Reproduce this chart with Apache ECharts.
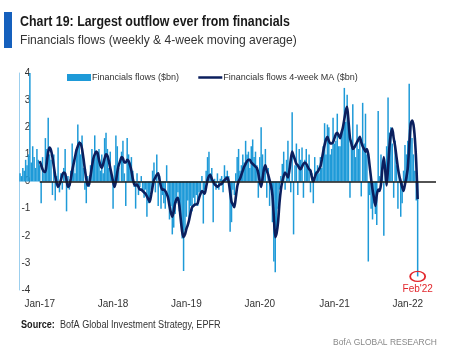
<!DOCTYPE html>
<html>
<head>
<meta charset="utf-8">
<script src="https://cdn.jsdelivr.net/npm/echarts@6/dist/echarts.min.js"></script>
<style>
  html, body { margin: 0; padding: 0; background: #fff; }
  #main { width: 474px; height: 353px; }
</style>
</head>
<body>
<div id="main"></div>
<script>
// weekly observations start here, one per week
const firstWeek = '2016-09-28';
// empty weeks after the last bar, so the zero line runs on a bit
const padWeeks = 13;

// weekly financials flows ($bn)
const flows = [
  0.3, 0.2, 0.5, 0.4, 0.8, 0.6, 1.0, 4.0, 0.7, 1.3, 0.9, 0.5, 1.2, 0.8,
  0.6, -0.8, 0.9, 0.3, 1.6, 1.2, 2.35, 1.0, 0.8, -0.5, 1.0, -0.7, 0.2, 1.25,
  -0.4, 0.3, -0.3, 0.5, 1.2, -1.1, 0.2, -0.3, 0.4, 1.4, 0.8, 0.3, 1.2, 2.1,
  1.5, 1.0, 1.7, 0.5, -0.3, -0.8, 0.2, -0.2, 0.6, 1.2, 0.8, 1.7, 1.1, 0.9,
  1.2, 0.4, 1.0, 0.3, 1.6, 1.8, 1.2, 0.5, 1.1, 0.2, -1.0, 0.6, 1.7, 1.3,
  0.5, 0.0, 1.1, 1.5, 0.3, -0.9, 1.6, 1.0, 0.7, 0.9, 0.4, -0.2, -1.0, 0.3,
  -0.5, -0.2, 0.2, -0.4, -0.6, -0.3, -1.3, -0.8, -0.7, -0.3, 0.4, 0.7, -0.4, 1.0,
  -0.9, 0.2, -1.0, -0.5, -0.8, -1.0, 0.6, -0.6, -1.4, -0.9, -1.95, -1.7, -1.2, -0.8,
  -0.4, -1.1, -1.5, -2.1, -3.3, -1.8, -1.3, -0.7, -1.45, -0.9, -1.1, -0.6, -0.9, -0.5,
  -0.9, -0.4, -0.5, 0.2, -1.55, -0.3, 0.4, 0.9, 1.1, 0.3, 0.5, -1.5, 0.1, -0.3,
  0.3, -0.3, 0.1, 0.2, -0.4, 0.6, 0.2, 0.4, 0.2, -1.85, -1.5, -0.3, -0.5, 0.3,
  0.9, 1.2, 0.4, 0.6, 1.0, 0.7, 1.5, 1.0, 1.1, 0.5, 1.3, 1.55, 0.9, 1.1,
  0.6, -0.6, 0.9, 2.0, 1.0, 0.3, 1.2, -0.6, 0.5, -0.9, -0.3, -1.5, -2.95, -3.35,
  -1.8, -1.0, -0.3, 0.2, 0.65, 1.1, -0.3, 0.8, 1.5, 0.5, -0.4, 2.55, -1.95, 0.6,
  1.4, -0.5, 1.2, 0.8, 1.25, -0.6, 0.8, 1.2, 0.5, 1.0, -0.4, 0.3, -0.8, 0.9,
  0.4, 0.6, 0.3, 0.9, 0.5, 1.3, 2.15, 1.0, 2.1, 2.0, 1.0, 1.2, 2.35, 1.4,
  1.5, 2.5, 1.3, 1.3, 1.8, 2.05, 3.45, 2.2, 3.2, 2.0, -0.6, 1.5, 2.85, 1.3,
  0.9, 2.1, 1.2, 1.5, -0.55, 2.9, 1.4, 2.5, 1.0, -2.95, -0.5, -1.0, -1.4, -0.8,
  -1.2, -1.6, 2.6, 0.2, 1.0, 0.4, -2.0, 0.6, 1.3, 3.1, 1.8, 2.0, 1.4, -0.6,
  1.5, 0.6, -1.0, 0.3, -1.3, -0.8, 0.4, 1.35, 1.0, 1.5, 3.6, 2.2, 1.6, 1.0, 0.4, -0.7, -3.5
];

// 4-week moving average ($bn), begins at week maStart (first week of Jan-17)
const maStart = 14;
const flowsMA = [
  0.75, 0.6, 0.45, 0.35, 0.35, 0.7, 1.1, 1.25, 1.15, 0.9, 0.55, 0.2, -0.05, -0.2,
  -0.1, 0.05, 0.25, 0.33, 0.3, 0.05, -0.2, -0.15, 0.1, 0.4, 0.65, 0.9, 1.15, 1.3,
  1.43, 1.4, 1.2, 0.85, 0.45, 0.1, -0.15, -0.1, 0.2, 0.55, 0.85, 1.0, 1.1, 1.05,
  0.8, 0.6, 0.5, 0.65, 0.85, 1.0, 0.95, 0.75, 0.5, 0.25, 0.0, -0.2, 0.0, 0.35,
  0.6, 0.75, 0.9, 0.85, 0.7, 0.7, 0.8, 0.75, 0.6, 0.4, 0.1, -0.1, -0.15, -0.1,
  -0.2, -0.3, -0.3, -0.35, -0.4, -0.45, -0.55, -0.65, -0.75, -0.5, -0.2, 0.05, 0.15, 0.25,
  0.3, 0.05, -0.2, -0.3, -0.3, -0.35, -0.45, -0.6, -0.9, -1.15, -1.3, -1.1, -0.8, -0.65,
  -0.6, -0.9, -1.4, -1.85, -2.05, -1.95, -1.75, -1.6, -1.4, -1.15, -0.95, -0.9, -0.85, -0.85,
  -0.8, -0.6, -0.45, -0.35, -0.4, -0.45, -0.2, 0.05, 0.2, 0.25, 0.1, 0.0, -0.1, -0.15,
  -0.2, -0.15, -0.1, -0.1, 0.0, 0.05, 0.1, 0.15, 0.0, -0.4, -0.75, -0.85, -0.95, -0.6,
  -0.2, 0.0, 0.1, 0.25, 0.4, 0.55, 0.65, 0.75, 0.8, 0.8, 0.7, 0.65, 0.6, 0.55,
  0.5, 0.3, 0.0, -0.2, 0.1, 0.45, 0.6, 0.4, 0.25, 0.05, -0.15, -0.5, -1.3, -2.05,
  -1.9, -1.5, -0.8, -0.3, 0.0, 0.2, 0.33, 0.25, 0.15, 0.4, 0.8, 1.1, 0.95, 0.8,
  0.65, 0.6, 0.5, 0.45, 0.55, 0.65, 0.7, 0.65, 0.55, 0.45, 0.4, 0.15, 0.0, 0.15,
  0.3, 0.35, 0.45, 0.55, 0.8, 1.1, 1.35, 1.55, 1.65, 1.5, 1.4, 1.4, 1.45, 1.6,
  1.75, 1.8, 1.7, 1.6, 1.8, 2.0, 2.3, 2.6, 2.75, 2.2, 1.6, 1.4, 1.2, 1.25,
  1.35, 1.45, 1.55, 1.65, 1.45, 1.3, 1.2, 1.1, 1.2, 1.0, 0.55, 0.1, -0.3, -0.6,
  -0.9, -0.5, -0.3, -0.35, -0.1, 0.5, 0.9, 0.4, -0.15, 0.5, 1.3, 1.75, 1.95, 1.6,
  1.3, 0.9, 0.5, 0.2, 0.0, -0.2, -0.35, -0.1, 0.15, 0.5, 1.3, 2.1, 2.25, 2.1, 1.6, 0.7, -0.65
];

const yMin = -4;
const yMax = 4;
const lastLabel = "Feb'22";

// texts
const titleText = 'Chart 19: Largest outflow ever from financials';
const subText = 'Financials flows (weekly & 4-week moving average)';
const flowsName = 'Financials flows ($bn)';
const maName = 'Financials flows 4-week MA ($bn)';
const sourceText = 'BofA Global Investment Strategy, EPFR';
const brandText = 'BofA GLOBAL RESEARCH';

const barBlue = '#1e9ad8';
const navy = '#0b1f5e';
const red = '#e2262c';
const font = '"Liberation Sans", Arial, sans-serif';
const monthNames = ['Jan', 'Feb', 'Mar', 'Apr', 'May', 'Jun', 'Jul', 'Aug', 'Sep', 'Oct', 'Nov', 'Dec'];

// week categories
let weeks = [];
let t0 = Date.parse(firstWeek + 'T00:00:00Z');
for (let i = 0; i < flows.length + padWeeks; i++) {
  weeks.push(new Date(t0 + i * 7 * 86400000).toISOString().slice(0, 10));
}

// moving average only from Jan-17 onwards
let maData = weeks.slice(0, flows.length).map((w, i) => i < maStart ? null : flowsMA[i - maStart]);

function isFirstJanWeek(w) {
  return w.slice(5, 7) === '01' && Number(w.slice(8, 10)) <= 7;
}

let chart = echarts.init(document.getElementById('main'), null, { renderer: 'canvas' });
let lastIdx = flows.length - 1;

chart.setOption({
  animation: false,
  textStyle: { fontFamily: font },
  grid: {
    left: 19.3,
    right: 37.3,
    top: 73,
    bottom: 63
  },
  legend: {
    left: 62,
    top: 68,
    itemWidth: 24,
    itemHeight: 7,
    itemGap: 18,
    textStyle: { fontSize: 9, color: '#333', fontFamily: font, padding: [0, 0, 0, -4] },
    data: [
      { name: flowsName, icon: 'rect' },
      {
        name: maName,
        itemStyle: { color: 'rgba(0,0,0,0)', borderColor: 'rgba(0,0,0,0)', borderWidth: 0 },
        lineStyle: { color: navy, width: 2.5 }
      }
    ]
  },
  xAxis: {
    type: 'category',
    data: weeks,
    boundaryGap: true,
    axisLine: { show: false, onZero: false },
    axisTick: { show: false },
    splitLine: { show: false },
    axisLabel: {
      interval: (idx, val) => isFirstJanWeek(val),
      formatter: (val) => monthNames[Number(val.slice(5, 7)) - 1] + '-' + val.slice(2, 4),
      color: '#333',
      fontSize: 10,
      margin: 9
    }
  },
  yAxis: {
    type: 'value',
    min: yMin,
    max: yMax,
    interval: 1,
    splitLine: { show: false },
    axisTick: { show: false },
    axisLine: { show: true, lineStyle: { color: '#9ccfee', width: 1 } },
    axisLabel: {
      inside: true,
      align: 'right',
      margin: 11,
      color: '#333',
      fontSize: 10
    }
  },
  series: [
    {
      name: flowsName,
      type: 'bar',
      data: flows,
      barWidth: 1.5,
      itemStyle: { color: barBlue },
      silent: true,
      markPoint: {
        silent: true,
        symbol: 'circle',
        symbolSize: [15, 10],
        itemStyle: { color: 'rgba(0,0,0,0)', borderColor: red, borderWidth: 1.5 },
        label: {
          show: true,
          position: 'bottom',
          distance: 2,
          formatter: lastLabel,
          color: red,
          fontSize: 10
        },
        data: [{ coord: [weeks[lastIdx], flows[lastIdx]] }]
      }
    },
    {
      name: maName,
      type: 'line',
      data: maData,
      symbol: 'none',
      smooth: 0.2,
      lineStyle: { color: navy, width: 2.6 },
      itemStyle: { color: navy },
      silent: true,
      z: 3,
      markLine: {
        silent: true,
        symbol: 'none',
        label: { show: false },
        lineStyle: { color: '#1a1a1a', width: 1.6, type: 'solid' },
        data: [[
          { coord: [weeks[maStart], 0] },
          { coord: [weeks[weeks.length - 1], 0] }
        ]]
      }
    }
  ],
  graphic: [
    { type: 'rect', left: 4, top: 12, shape: { width: 8, height: 36 }, style: { fill: '#1560bd' } },
    {
      type: 'text', x: 20, y: 15, scaleX: 0.885,
      style: { text: titleText, font: 'bold 14px ' + font, fill: '#1a1a1a' }
    },
    {
      type: 'text', x: 20, y: 34, scaleX: 0.93,
      style: { text: subText, font: '13px ' + font, fill: '#333' }
    },
    {
      type: 'text', x: 21, y: 320, scaleX: 0.91,
      style: {
        text: '{b|Source:}  ' + sourceText,
        font: '10px ' + font,
        fill: '#333',
        rich: { b: { fontWeight: 'bold', fontSize: 10, fontFamily: font, fill: '#1a1a1a' } }
      }
    },
    {
      type: 'text', x: 333, y: 338, scaleX: 0.94,
      style: { text: brandText, font: '9px ' + font, fill: '#888' }
    }
  ]
});
</script>
</body>
</html>
